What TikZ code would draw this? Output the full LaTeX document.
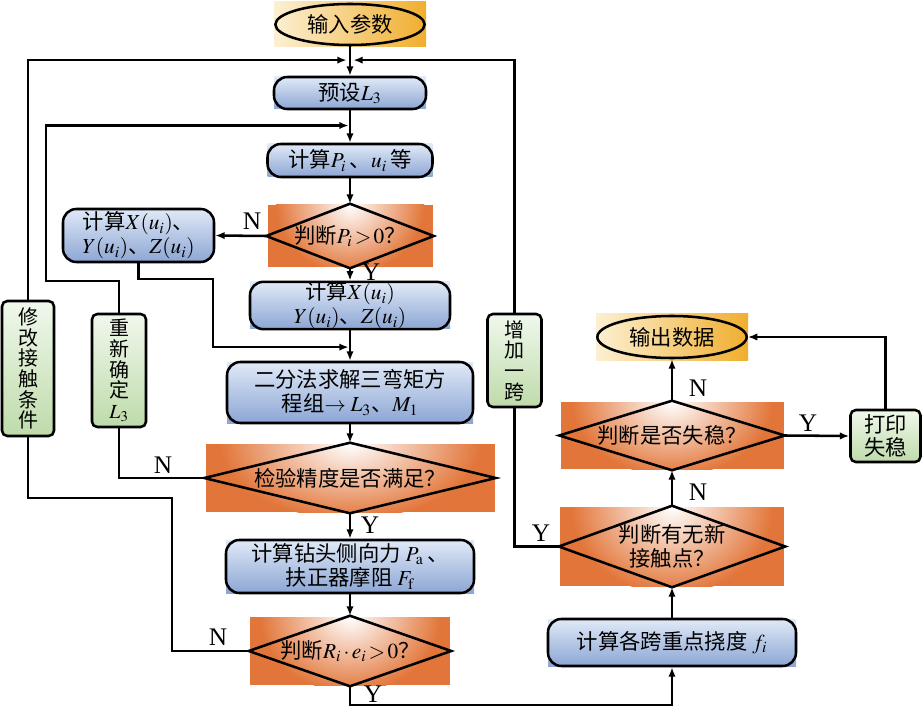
\documentclass[tikz,border=0pt]{standalone}
\usepackage{mathptmx}
\usepackage{fontspec}
\setmainfont{Liberation Serif}
\newfontfamily\cjk{Noto Sans CJK SC}
\usetikzlibrary{
  arrows.meta,
  shapes.geometric,
  calc
}
\definecolor{bluetop}{RGB}{224,233,247}
\definecolor{bluebot}{RGB}{140,166,212}
\definecolor{greentop}{RGB}{240,248,236}
\definecolor{greenbot}{RGB}{190,219,170}
\definecolor{goldleft}{RGB}{252,240,210}
\definecolor{goldright}{RGB}{240,174,46}
\definecolor{decfill}{RGB}{226,118,58}
\tikzset{
  txt/.style={font=\cjk\fontsize{16}{18}\selectfont,align=center,inner sep=0pt},
  procbox/.style={txt,draw,rounded corners=10pt},
  termbox/.style={txt,draw,ellipse},
  sidebox/.style={txt,draw,rounded corners=4pt,top color=greentop,bottom color=greenbot,
    font=\cjk\fontsize{15}{15.5}\selectfont},
  lbl/.style={font=\fontsize{19}{20}\selectfont,inner sep=0pt},
  arr/.style={-{Latex[length=7pt,width=5.5pt]}}
}
\newcommand{\procnode}[6]{%
  \shade[top color=bluetop,bottom color=bluebot] (#2-#4/2,#3-#5/2) rectangle (#2+#4/2,#3+#5/2);%
  \node[procbox,minimum width=#4*0.75pt,minimum height=#5*0.75pt] (#1) at (#2,#3) {#6};%
}
\newcommand{\termnode}[6]{%
  \shade[left color=goldleft,right color=goldright] (#2-#4/2,#3-#5/2) rectangle (#2+#4/2,#3+#5/2);%
  \node[termbox,minimum width=#4*0.75pt-2pt,minimum height=#5*0.75pt-3pt] (#1) at (#2,#3) {#6};%
}
\newcommand{\decnode}[6]{%
  \fill[decfill] (#2-#4/2,#3-#5/2) rectangle (#2+#4/2,#3+#5/2);%
  \begin{scope}
    \clip (#2-#4/2,#3-#5/2) rectangle (#2+#4/2,#3+#5/2);%
    \shade[inner color=white,outer color=decfill] (#2,#3-#5/2) ellipse ({#4*0.45} and {#5*1.1});%
  \end{scope}
  \node[txt,minimum width=#4*0.75pt,minimum height=#5*0.75pt] (#1) at (#2,#3) {#6};%
  \draw (#1.north) -- (#1.east) -- (#1.south) -- (#1.west) -- cycle;%
}

\begin{document}
\begin{tikzpicture}[x=0.75pt,y=-0.75pt,line width=1.9pt]
  \useasboundingbox (0,0) rectangle (922,713);
  % main column
  \termnode{start}{350}{24.5}{152}{45}{输入参数}
  \procnode{preset}{350}{93}{152}{32}{预设$L_3$}
  \procnode{calcP}{350}{160.5}{165}{33}{计算$P_i$\,、$u_i$\,等}
  \decnode{decP}{350}{236}{165}{62}{判断$P_i\,{>}\,0$？}
  \node[procbox,top color=bluetop,bottom color=bluebot,minimum width=151*0.75pt,
    minimum height=53*0.75pt] (calcXa) at (138.5,235.5) {计算$X(u_i)$、\\$Y(u_i)$、$Z(u_i)$};
  \procnode{calcXb}{350}{305.5}{200}{47}{计算$X(u_i)$\\$Y(u_i)$、$Z(u_i)$}
  \procnode{solve}{350}{392.5}{246}{61}{二分法求解三弯矩方\\程组$\rightarrow L_3$、$M_1$}
  \decnode{check}{350}{478}{289}{68}{检验精度是否满足？}
  \procnode{force}{350}{566.5}{248}{53}{计算钻头侧向力 $P_\mathrm{a}$\,、\\扶正器摩阻 $F_\mathrm{f}$}
  \decnode{decR}{350}{651}{200}{68}{判断$R_i\,{\cdot}\,e_i\,{>}\,0$？}
  % right column
  \procnode{deflect}{672}{642.5}{248}{47}{计算各跨重点挠度 $f_i$}
  \decnode{decNew}{672}{546.5}{224}{79}{判断有无新\\接触点？}
  \decnode{decStab}{672}{435.5}{223}{67}{判断是否失稳？}
  \termnode{output}{672}{337}{152}{46}{输出数据}
  % side boxes
  \node[sidebox,minimum width=52*0.75pt,minimum height=135*0.75pt] (modify) at (28,368.5) {修\\改\\接\\触\\条\\件};
  \node[sidebox,minimum width=54*0.75pt,minimum height=113*0.75pt] (redef) at (119,370.5) {重\\新\\确\\定\\$L_3$};
  \node[sidebox,minimum width=54*0.75pt,minimum height=93*0.75pt] (addspan) at (514.5,360.5) {增\\加\\一\\跨};
  \node[sidebox,minimum width=70*0.75pt,minimum height=52*0.75pt,
    font=\cjk\fontsize{16}{17}\selectfont] (print) at (885.5,436) {打印\\失稳};
  % connectors
  \coordinate (j1) at ($(start.south)!0.47!(preset.north)$);
  \coordinate (j2) at ($(preset.south)!0.47!(calcP.north)$);
  \coordinate (j3) at ($(calcXb.south)!0.55!(solve.north)$);
  \coordinate (k1) at (46,281);
  \coordinate (k2) at (213,279);
  \coordinate (k3) at (172,498);
  \coordinate (k4) at (350,705);
  \draw[arr] (start) -- (preset);
  \draw[arr] (preset) -- (calcP);
  \draw[arr] (calcP) -- (decP);
  \draw[arr] (decP.west) -- (calcXa.east);
  \draw[arr] (decP.south) -- (calcXb.north);
  \draw[arr,shorten >=1pt] (calcXa.south) |- (k2) |- (j3);
  \draw[arr] (calcXb) -- (solve);
  \draw[arr] (solve) -- (check);
  \draw (check.west) -| (redef.south);
  \draw[arr,shorten >=1pt] (redef.north) |- (k1) |- (j2);
  \draw[arr] (check.south) -- (force.north);
  \draw[arr] (force) -- (decR);
  \draw (decR.west) -| (k3) -| (modify.south);
  \draw[arr,shorten >=2.5pt] (modify.north) |- (j1);
  \draw[arr] (decR.south) -- (k4) -| (deflect.south);
  \draw[arr] (deflect) -- (decNew);
  \draw (decNew.west) -| (addspan.south);
  \draw[arr,shorten >=2.5pt] (addspan.north) |- (j1);
  \draw[arr] (decNew.north) -- (decStab.south);
  \draw[arr] (decStab.east) -- (print.west);
  \draw[arr] (decStab.north) -- (output.south);
  \draw[arr] (print.north) |- (output.east);
  % labels
  \node[lbl] (nP) at (252,221) {N};
  \node[lbl] (yP) at (371,272) {Y};
  \node[lbl] (nC) at (163,465) {N};
  \node[lbl] (yC) at (370,525) {Y};
  \node[lbl] (nR) at (218,637) {N};
  \node[lbl] (yR) at (373,694) {Y};
  \node[lbl] (yN) at (541,533) {Y};
  \node[lbl] (nN) at (698,492) {N};
  \node[lbl] (nS) at (698,388) {N};
  \node[lbl] (yS) at (808,423) {Y};
\end{tikzpicture}
\end{document}
